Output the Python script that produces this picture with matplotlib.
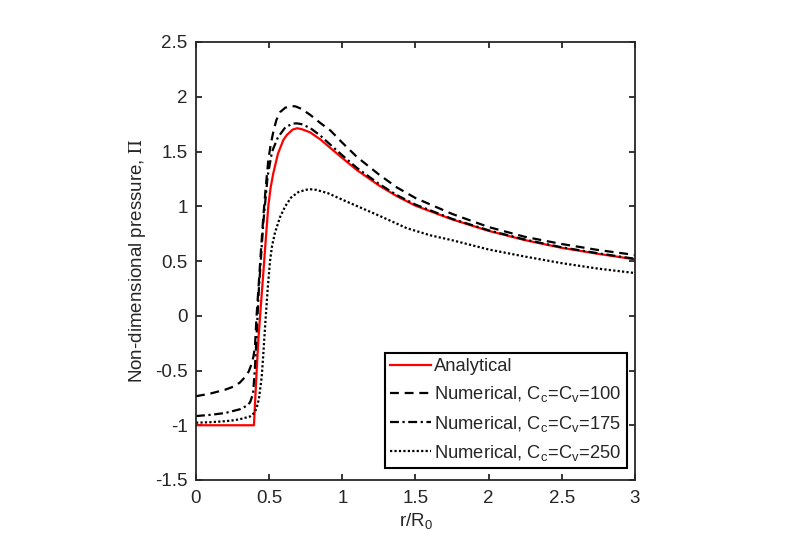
import matplotlib
matplotlib.use("Agg")
import matplotlib.pyplot as plt

plt.rcParams['font.family'] = ['Liberation Sans', 'DejaVu Sans']
plt.rcParams['mathtext.fontset'] = 'custom'
plt.rcParams['mathtext.rm'] = 'Liberation Sans'
plt.rcParams['mathtext.it'] = 'Liberation Sans:italic'
plt.rcParams['axes.unicode_minus'] = False

# ---- data ----
r_ana = [0, 0.396, 0.41, 0.426, 0.443, 0.46, 0.477, 0.494, 0.51, 0.528, 0.56, 0.597,
         0.62, 0.66, 0.69, 0.72, 0.78, 0.85, 0.92, 1.0, 1.1, 1.25, 1.375, 1.5, 1.75,
         2.0, 2.25, 2.5, 2.75, 3.0]
p_ana = [-1, -1, -0.62, -0.22, 0.09, 0.39, 0.70, 1.0, 1.17, 1.30, 1.48, 1.605,
         1.65, 1.70, 1.712, 1.705, 1.675, 1.61, 1.53, 1.44, 1.33, 1.19, 1.09, 1.005, 0.88,
         0.775, 0.69, 0.62, 0.565, 0.515]

r_100 = [0, 0.1, 0.2, 0.26, 0.30, 0.335, 0.36, 0.38, 0.393, 0.403, 0.414, 0.426, 0.443,
         0.46, 0.477, 0.494, 0.51, 0.53, 0.55, 0.575, 0.61, 0.65, 0.68, 0.72, 0.78, 0.85,
         0.92, 1.0, 1.1, 1.25, 1.375, 1.5, 1.75, 2.0, 2.25, 2.5, 2.75, 3.0]
p_100 = [-0.735, -0.71, -0.675, -0.645, -0.61, -0.56, -0.51, -0.44, -0.37, -0.28, 0.0,
         0.235, 0.58, 0.905, 1.18, 1.42, 1.56, 1.69, 1.79, 1.86, 1.90, 1.915, 1.912, 1.89,
         1.835, 1.76, 1.69, 1.58, 1.45, 1.29, 1.17, 1.075, 0.93, 0.81, 0.72, 0.655, 0.60,
         0.555]

r_175 = [0, 0.1, 0.2, 0.3, 0.35, 0.37, 0.39, 0.403, 0.415, 0.43, 0.46, 0.49, 0.52,
         0.56, 0.61, 0.66, 0.69, 0.72, 0.78, 0.85, 0.92, 1.0, 1.1, 1.25, 1.375, 1.5, 1.75,
         2.0, 2.25, 2.5, 2.75, 3.0]
p_175 = [-0.916, -0.905, -0.888, -0.854, -0.82, -0.79, -0.71, -0.47, -0.15, 0.25, 0.85,
         1.28, 1.50, 1.63, 1.72, 1.755, 1.757, 1.75, 1.715, 1.645, 1.56, 1.465, 1.35,
         1.205, 1.10, 1.015, 0.885, 0.78, 0.695, 0.625, 0.57, 0.52]

r_250 = [0, 0.1, 0.2, 0.255, 0.3, 0.369, 0.40, 0.415, 0.43, 0.449, 0.46, 0.472, 0.49,
         0.506, 0.52, 0.54, 0.574, 0.61, 0.65, 0.70, 0.75, 0.78, 0.82, 0.9, 1.0, 1.12,
         1.25, 1.44, 1.6, 1.75, 2.0, 2.25, 2.5, 2.75, 3.0]
p_250 = [-0.977, -0.972, -0.963, -0.955, -0.945, -0.92, -0.885, -0.84, -0.76, -0.56,
         -0.35, -0.10, 0.25, 0.50, 0.64, 0.76, 0.90, 1.00, 1.08, 1.13, 1.15, 1.155, 1.15,
         1.12, 1.06, 0.99, 0.915, 0.80, 0.735, 0.69, 0.605, 0.54, 0.48, 0.43, 0.39]

xticks = [0, 0.5, 1, 1.5, 2, 2.5, 3]
xticklabels = ['0', '0.5', '1', '1.5', '2', '2.5', '3']
yticks = [-1.5, -1, -0.5, 0, 0.5, 1, 1.5, 2, 2.5]
yticklabels = ['-1.5', '-1', '-0.5', '0', '0.5', '1', '1.5', '2', '2.5']

labels = ['Analytical',
          r'Numerical, C$_\mathrm{c}$=C$_\mathrm{v}$=100',
          r'Numerical, C$_\mathrm{c}$=C$_\mathrm{v}$=175',
          r'Numerical, C$_\mathrm{c}$=C$_\mathrm{v}$=250']

# ---- figure ----
fig = plt.figure(figsize=(8.03, 5.47), dpi=100)
ax = fig.add_axes([196/803, 1-480/547, 439/803, 438/547])

ax.plot(r_ana, p_ana, color='red', lw=1.6, label=labels[0])
ax.plot(r_100, p_100, color='black', lw=1.6, ls=(0, (4, 2.6)), label=labels[1])
ax.plot(r_175, p_175, color='black', lw=1.6, ls=(0, (4, 1.6, 1, 1.6)), label=labels[2])
ax.plot(r_250, p_250, color='black', lw=1.6, ls=(0, (1, 1)), label=labels[3])

ax.set_xlim(0, 3)
ax.set_ylim(-1.5, 2.5)
ax.set_xticks(xticks)
ax.set_xticklabels(xticklabels)
ax.set_yticks(yticks)
ax.set_yticklabels(yticklabels)

dark = '#262626'
for s in ax.spines.values():
    s.set_linewidth(1.3)
    s.set_color(dark)
ax.tick_params(direction='in', length=4, width=1.3, colors=dark, labelcolor=dark,
               labelsize=13.5, top=True, right=True, pad=6)
ax.tick_params(axis='x', pad=7)

ax.set_xlabel(r'r/R$_0$', fontsize=13.5, color=dark, labelpad=3)
ax.set_ylabel(r'Non-dimensional pressure, $\Pi$', fontsize=13.5, color=dark,
              math_fontfamily='stix', labelpad=5)

leg = ax.legend(loc='lower right', bbox_to_anchor=(0.982, 0.027), fontsize=13.2,
                frameon=True, fancybox=False, framealpha=1, edgecolor='black',
                handlelength=2.2, handletextpad=0.2, borderpad=0.3,
                labelspacing=0.5, borderaxespad=0)
leg.get_frame().set_linewidth(1.5)
for t in leg.get_texts():
    t.set_color(dark)

fig.savefig('out.png', dpi=100)
